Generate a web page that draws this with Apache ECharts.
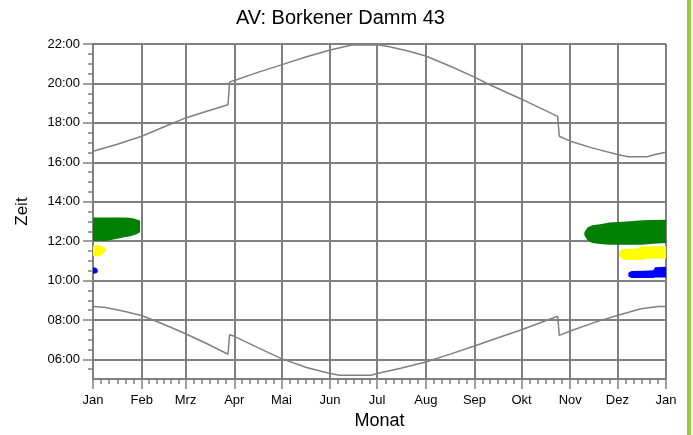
<!DOCTYPE html>
<html>
<head>
<meta charset="utf-8">
<script src="https://cdn.jsdelivr.net/npm/echarts@6/dist/echarts.min.js"></script>
<style>
  html, body { margin: 0; padding: 0; background: #fff; }
  #chart { width: 693px; height: 435px; }
</style>
</head>
<body>
<div id="chart"></div>
<script>
// Monate (Tag im Jahr, 0..365)
const monthNames = ['Jan', 'Feb', 'Mrz', 'Apr', 'Mai', 'Jun', 'Jul', 'Aug', 'Sep', 'Okt', 'Nov', 'Dez', 'Jan'];
const monthStarts = [0, 31, 59, 90, 120, 151, 181, 212, 243, 273, 304, 334, 365];
const hourTicks = [6, 8, 10, 12, 14, 16, 18, 20, 22];

// Sonnenuntergang [Tag, Stunde]
const sunset = [
  [0, 16.56], [15, 16.9], [31, 17.32], [45, 17.79], [59, 18.25], [73, 18.6], [86, 18.92],
  [87, 20.08], [90, 20.15], [105, 20.56], [120, 20.94], [135, 21.33], [151, 21.7],
  [165, 21.95], [181, 21.96], [188, 21.87], [200, 21.66], [212, 21.39], [228, 20.86],
  [243, 20.32], [252, 19.96], [273, 19.2], [296, 18.33], [297, 17.32], [304, 17.07],
  [318, 16.73], [334, 16.39], [341, 16.28], [353, 16.28], [358, 16.39], [365, 16.51]
];

// Sonnenaufgang [Tag, Stunde]
const sunrise = [
  [0, 8.68], [7, 8.65], [19, 8.45], [31, 8.23], [45, 7.78], [59, 7.3], [73, 6.78], [86, 6.26],
  [87, 7.25], [90, 7.17], [105, 6.6], [120, 6.04], [136, 5.59], [151, 5.28], [157, 5.2],
  [177, 5.2], [181, 5.28], [196, 5.55], [212, 5.87], [228, 6.28], [243, 6.68], [258, 7.1],
  [273, 7.5], [296, 8.19], [297, 7.22], [304, 7.44], [320, 7.89], [334, 8.23], [349, 8.57],
  [360, 8.68], [365, 8.68]
];

// Verschattungsflaechen [Tag, von, bis]
const greenJan = [[0, 12.0, 13.2], [8, 12.0, 13.2], [14, 12.1, 13.2], [20, 12.19, 13.2], [23, 12.24, 13.19], [26, 12.3, 13.15], [28, 12.36, 13.1], [30, 12.45, 13.03]];
const yellowJan = [[0, 11.25, 11.78], [3, 11.22, 11.8], [5, 11.27, 11.77], [7, 11.4, 11.68], [8, 11.5, 11.6]];
const blueJan = [[0, 10.35, 10.68], [2, 10.37, 10.65], [3, 10.42, 10.55]];
const greenDez = [[313, 12.3, 12.45], [315, 12.05, 12.69], [318, 11.9, 12.8], [323, 11.85, 12.86], [329, 11.81, 12.94], [340, 11.81, 13.0], [350, 11.81, 13.06], [355, 11.86, 13.07], [365, 11.9, 13.08]];
const yellowDez = [[335, 11.3, 11.45], [336, 11.15, 11.55], [338, 11.06, 11.6], [346, 11.04, 11.62], [349, 11.04, 11.72], [353, 11.1, 11.73], [365, 11.12, 11.75]];
const blueDez = [[341, 10.2, 10.4], [343, 10.13, 10.48], [351, 10.13, 10.5], [357, 10.13, 10.52], [358, 10.15, 10.68], [365, 10.15, 10.7]];

// Nebenstriche: Monat in 6 Teile, Zeit alle 30 min
const minorDays = [];
for (let m = 0; m < 12; m++) {
  const len = monthStarts[m + 1] - monthStarts[m];
  for (let k = 1; k < 6; k++) minorDays.push(monthStarts[m] + len * k / 6);
}
const halfHours = [];
for (let h = 5.5; h <= 22; h += 0.5) halfHours.push(h);

const gray = '#808080';
const font = 'Liberation Sans, Arial, sans-serif';

// Flaeche zwischen von/bis als ein Polygon
function band(data, color) {
  return {
    type: 'custom', silent: true, z: 4,
    data: data,
    encode: { x: 0, y: [1, 2] },
    renderItem: function (params, api) {
      if (params.dataIndex !== 0) return null;
      const top = data.map(d => api.coord([d[0], d[2]]));
      const bottom = data.map(d => api.coord([d[0], d[1]])).reverse();
      return {
        type: 'polygon',
        shape: { points: top.concat(bottom) },
        style: { fill: color }
      };
    }
  };
}

const chart = echarts.init(document.getElementById('chart'));

chart.setOption({
  animation: false,
  backgroundColor: '#fff',
  title: {
    text: 'AV: Borkener Damm 43',
    left: 231, top: 3,
    textStyle: { fontFamily: font, fontSize: 20, fontWeight: 'normal', color: '#000' }
  },
  graphic: [
    { type: 'rect', left: 687, top: 0, shape: { width: 4, height: 435 }, style: { fill: '#9acb3e' } }
  ],
  grid: { left: 93, right: 27, top: 44, bottom: 54 },
  xAxis: [
    {
      type: 'value', min: 0, max: 365, position: 'bottom',
      name: 'Monat', nameLocation: 'middle', nameGap: 31,
      nameTextStyle: { fontFamily: font, fontSize: 18, color: '#000' },
      axisLine: { show: true, onZero: false, lineStyle: { color: gray, width: 2 } },
      axisTick: { show: true, customValues: monthStarts, length: 10, lineStyle: { color: gray, width: 1.5 } },
      axisLabel: {
        customValues: monthStarts, margin: 15,
        fontFamily: font, fontSize: 13, color: '#000',
        formatter: v => monthNames[monthStarts.indexOf(Math.round(v))]
      },
      splitLine: { show: true, lineStyle: { color: gray, width: 2 } }
    },
    {
      type: 'value', min: 0, max: 365, position: 'bottom',
      axisLine: { show: false, onZero: false },
      axisTick: { show: true, customValues: minorDays, length: 5, lineStyle: { color: gray, width: 1.5 } },
      axisLabel: { show: false },
      splitLine: { show: false }
    }
  ],
  yAxis: [
    {
      type: 'value', min: 5, max: 22, position: 'left',
      name: 'Zeit', nameLocation: 'middle', nameGap: 62,
      nameTextStyle: { fontFamily: font, fontSize: 17, color: '#000' },
      axisLine: { show: true, onZero: false, lineStyle: { color: gray, width: 2 } },
      axisTick: { show: true, customValues: hourTicks, length: 10, lineStyle: { color: gray, width: 1.5 } },
      axisLabel: {
        customValues: hourTicks, margin: 13,
        fontFamily: font, fontSize: 13, color: '#000',
        formatter: v => (v < 10 ? '0' : '') + v + ':00'
      },
      splitLine: { show: true, lineStyle: { color: gray, width: 2 } }
    },
    {
      type: 'value', min: 5, max: 22, position: 'left',
      axisLine: { show: false, onZero: false },
      axisTick: { show: true, customValues: halfHours, length: 5, lineStyle: { color: gray, width: 1.5 } },
      axisLabel: { show: false },
      splitLine: { show: false }
    }
  ],
  series: [
    band(greenJan, '#008000'),
    band(yellowJan, '#ffff00'),
    band(blueJan, '#0000ff'),
    band(greenDez, '#008000'),
    band(yellowDez, '#ffff00'),
    band(blueDez, '#0000ff'),
    {
      type: 'line', data: sunset, symbol: 'none', silent: true,
      lineStyle: { color: gray, width: 1.5 }, z: 5
    },
    {
      type: 'line', data: sunrise, symbol: 'none', silent: true,
      lineStyle: { color: gray, width: 1.5 }, z: 5
    }
  ]
});
</script>
</body>
</html>
